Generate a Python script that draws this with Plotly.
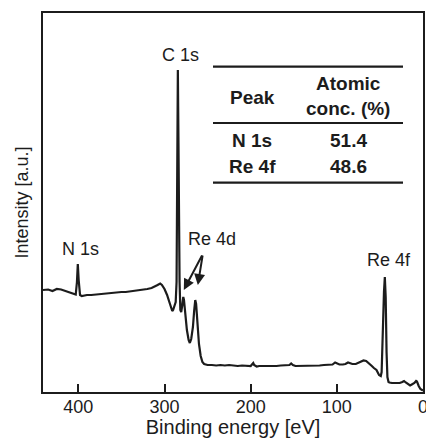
import plotly.graph_objects as go

# Binding energy (eV) and intensity (arbitrary units)
energy = [441, 435, 430, 425, 420, 415, 410, 405, 403, 401.6, 400.6, 399.6, 398, 396, 393, 390,
          385, 380, 375, 370, 365, 360, 355, 350, 345, 340, 335, 330, 325, 320, 315, 312,
          308, 305, 303, 300, 297, 294, 292, 291, 290, 288.5, 287, 286, 285.2, 284.5, 283.8,
          283.2, 282.5, 281.6, 280.6, 279.5, 278.2, 277.4, 276.2, 274, 272, 270.6, 269, 267,
          265.5, 264.3, 263.3, 262, 260, 258, 256, 254, 250, 245, 240, 235, 230, 225, 220,
          215, 210, 205, 200, 198, 197, 196, 193, 190, 185, 180, 175, 170, 165, 160, 155,
          153, 151, 148, 145, 140, 135, 130, 125, 120, 115, 110, 105, 102, 100, 97, 93, 90,
          87, 85, 82, 78, 75, 72, 69, 66, 63, 60, 57, 54, 51, 49, 48, 47, 46.3, 45.3, 44.3,
          43.3, 42.3, 41.3, 40, 39, 36, 33, 30, 27, 24, 22, 20, 17, 15, 13, 10, 8, 7, 5, 3, 1, 0]
intensity = [102, 102.5, 101, 103, 102.5, 101, 100, 98, 97.5, 110, 128, 112, 97, 96, 96.5, 97,
             97, 97.5, 98, 98.5, 98.5, 99, 99.5, 100, 100, 100.5, 101, 102, 102, 103, 104, 105,
             107, 108.5, 107, 103, 97, 89, 83, 81, 82, 86, 90, 110, 200, 322, 250,
             160, 110, 82, 80, 86, 95, 92, 80, 62, 52, 49, 53, 65,
             82, 92, 88, 70, 48, 36, 30, 28, 27, 27, 26.5, 27, 26.5, 27, 26.5,
             26, 26.5, 26, 26, 28, 29, 27, 25.5, 26, 26, 25.5, 26, 26, 26.5, 26.5, 27,
             28.5, 27, 26, 26, 26, 26, 26.5, 26, 26.5, 27, 27, 27.5, 29.5, 28.5, 27.5, 27.5, 28,
             29.5, 29, 28, 28, 29, 30, 31.5, 31, 29, 26.5, 24, 22, 17, 16, 20, 60, 90, 100, 115,
             95, 40, 15, 10, 9.5, 9, 9, 8.5, 9, 10, 11, 9.5, 8, 6.5, 7.5, 9, 11, 10.5, 6, 3, 2, 1.5]

x_ticks = [400, 300, 200, 100, 0]

peak_labels = ["C 1s", "N 1s", "Re 4d", "Re 4f"]
label_energy = [281.4, 397.7, 245.3, 39.5]
label_intensity = [337, 143, 153, 132]

table_header = ["Peak", "Atomic", "conc. (%)"]
table_peaks = ["N 1s", "Re 4f"]
table_conc = ["51.4", "48.6"]

arrow_energy = [277.6, 261.3]
arrow_intensity = [102, 107]

FONT = "Liberation Sans, Arial, sans-serif"
INK = "#1c1c1c"

fig = go.Figure()
fig.add_trace(go.Scatter(x=energy, y=intensity, mode="lines",
                         line=dict(color=INK, width=2.2), showlegend=False,
                         hoverinfo="skip"))

annotations = []
for txt, ex, iy in zip(peak_labels, label_energy, label_intensity):
    annotations.append(dict(x=ex, y=iy, xref="x", yref="y", text=txt, showarrow=False,
                            xanchor="center", yanchor="middle",
                            font=dict(family=FONT, size=18, color=INK)))

# Re 4d arrows (tail offsets in pixels)
arrow_offsets = [(19, -36), (5, -31)]
for ex, iy, (axp, ayp) in zip(arrow_energy, arrow_intensity, arrow_offsets):
    annotations.append(dict(x=ex, y=iy, xref="x", yref="y", text="", showarrow=True,
                            ax=axp, ay=ayp, arrowhead=2, arrowsize=1.1, arrowwidth=2,
                            arrowcolor=INK))

# Table text (paper coordinates)
def px2paper(px, py):
    return (px - 43) / 380, (392 - py) / 379

tbl_font = dict(family=FONT, size=19, color=INK)
cells = [
    (table_header[0], 252, 97),
    (table_header[1], 348, 83),
    (table_header[2], 348, 108),
    (table_peaks[0], 252, 140),
    (table_conc[0], 348, 140),
    (table_peaks[1], 252, 167),
    (table_conc[1], 348, 167),
]
for txt, px, py in cells:
    xp, yp = px2paper(px, py)
    annotations.append(dict(x=xp, y=yp, xref="paper", yref="paper", text="<b>%s</b>" % txt,
                            showarrow=False, xanchor="center", yanchor="middle",
                            font=tbl_font))

shapes = []
for py in [66.7, 123, 182.7]:
    x0, y0 = px2paper(213, py)
    x1, _ = px2paper(403, py)
    shapes.append(dict(type="line", xref="paper", yref="paper", x0=x0, x1=x1, y0=y0, y1=y0,
                       line=dict(color=INK, width=2.2)))

fig.update_layout(
    width=426, height=438,
    margin=dict(l=43, r=3, t=13, b=46),
    paper_bgcolor="white", plot_bgcolor="white",
    font=dict(family=FONT, color=INK),
    annotations=annotations, shapes=shapes,
    xaxis=dict(range=[441, 0], tickvals=x_ticks, ticks="inside", ticklen=8, tickwidth=2,
               tickcolor=INK, showline=True, linewidth=2.2, linecolor=INK, mirror=True,
               showgrid=False, zeroline=False, automargin=False,
               ticklabeloverflow="allow", ticklabelstandoff=-3,
               tickfont=dict(family=FONT, size=18, color=INK),
               title=dict(text="Binding energy [eV]", font=dict(family=FONT, size=20, color=INK),
                          standoff=6)),
    yaxis=dict(range=[0, 379], showticklabels=False, ticks="", showline=True, linewidth=2.2,
               linecolor=INK, mirror=True, showgrid=False, zeroline=False, automargin=False,
               title=dict(text="Intensity [a.u.]", font=dict(family=FONT, size=18, color=INK),
                          standoff=8)),
)

fig.write_html("out.html", config={"displayModeBar": False},
               post_script="document.body.style.margin='0';document.body.style.overflow='hidden';")
